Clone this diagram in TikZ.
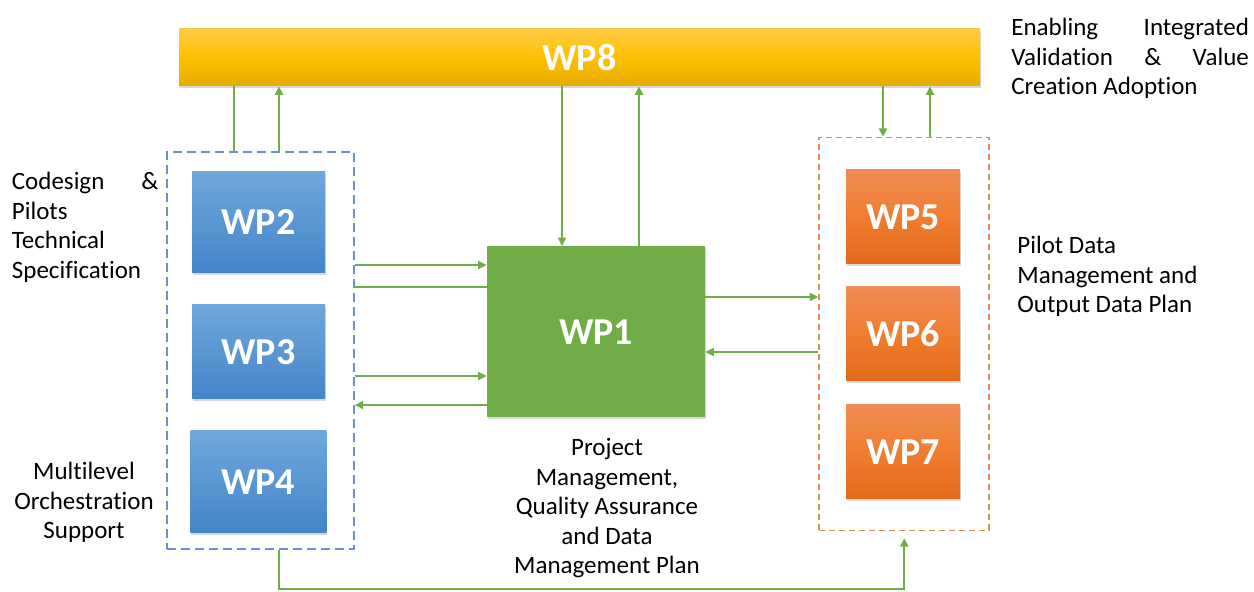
\documentclass[tikz,border=0pt]{standalone}
\usepackage{fontspec}
\setmainfont[Ligatures={NoCommon}]{Carlito}
\usetikzlibrary{arrows.meta,shadows}
\definecolor{arrgreen}{HTML}{70AD47}
\definecolor{wpgreen}{HTML}{70AD47}
\definecolor{ytop}{HTML}{FFCB45}
\definecolor{ymid}{HTML}{FFC000}
\definecolor{ybot}{HTML}{E3AD00}
\definecolor{btop}{HTML}{70A7DD}
\definecolor{bbot}{HTML}{4385C8}
\definecolor{otop}{HTML}{F18C55}
\definecolor{omid}{HTML}{F07D2F}
\definecolor{obot}{HTML}{E3691A}
\definecolor{bluedash}{HTML}{6A8FD8}
\definecolor{orangedash}{HTML}{EC8A4E}
\begin{document}
\begin{tikzpicture}[x=0.5pt,y=-0.5pt,
  wpbox/.style={draw=none, inner sep=0pt, text=white,
    font=\fontsize{19}{22}\selectfont\bfseries,
    drop shadow={shadow xshift=0.5pt,shadow yshift=-0.9pt,opacity=0.3}},
  bluebox/.style={wpbox, top color=btop, bottom color=bbot},
  orangebox/.style={wpbox, top color=otop, bottom color=obot, middle color=omid},
  groupblue/.style={draw=bluedash, line width=0.75pt, dash pattern=on 4.5pt off 2.5pt, inner sep=0pt},
  grouporange/.style={draw=orangedash, line width=0.7pt, dash pattern=on 3pt off 2pt, inner sep=0pt},
  txt/.style={inner sep=0pt, text=black, font=\fontsize{12.5}{14.8}\selectfont},
  conn/.style={draw=arrgreen, line width=0.9pt},
  arr/.style={conn, -{Triangle[length=4.2pt,width=4pt]}}
]
\fill[white] (0,0) rectangle (1254,592);
\useasboundingbox (0,0) rectangle (1254,592);

% group frames
\node[groupblue, minimum width=93.5pt, minimum height=198.5pt] (lb) at (260.5,350.5) {};
\node[grouporange, minimum width=85pt, minimum height=196.5pt] (rb) at (904,334) {};

% work packages
\node[wpbox, top color=ytop, bottom color=ybot, middle color=ymid,
      minimum width=400.5pt, minimum height=28.5pt] (wp8) at (579.5,57.5) {WP8};
\node[bluebox, minimum width=66.5pt, minimum height=50.5pt] (wp2) at (258.5,222.5) {WP2};
\node[bluebox, minimum width=66.5pt, minimum height=47pt] (wp3) at (258.5,352) {WP3};
\node[bluebox, minimum width=68pt, minimum height=51pt] (wp4) at (258.3,481.8) {WP4};
\node[wpbox, fill=wpgreen, minimum width=109pt, minimum height=85.5pt] (wp1) at (596,332) {WP1};
\node[orangebox, minimum width=57pt, minimum height=47pt] (wp5) at (903,217) {WP5};
\node[orangebox, minimum width=57pt, minimum height=47pt] (wp6) at (903,334) {WP6};
\node[orangebox, minimum width=57pt, minimum height=47pt] (wp7) at (903,452) {WP7};

% labels
\node[txt, anchor=north west, align=left] (lenabling) at (1011,14.3)
  {\strut\hbox to 118.75pt{Enabling\hfill Integrated}\\
   \strut\hbox to 118.75pt{Validation\hfill\&\hfill Value}\\
   \strut Creation Adoption};
\node[txt, anchor=north west, align=left] (lcodesign) at (11.5,168.3)
  {\strut\hbox to 73.25pt{Codesign\hfill\&}\\ \strut Pilots\\ \strut Technical\\ \strut Specification};
\node[txt, anchor=north west, align=left] (lpilot) at (1017,232.3)
  {\strut Pilot Data\\ \strut Management and\\ \strut Output Data Plan};
\node[txt, anchor=north, align=center] (lmulti) at (84,458.3)
  {\strut Multilevel\\ \strut Orchestration\\ \strut Support};
\node[txt, anchor=north, align=center] (lproject) at (607,434.3)
  {\strut Project\\ \strut Management,\\ \strut Quality Assurance\\ \strut and Data\\ \strut Management Plan};

% connectors to/from WP8
\draw[conn] (234,0 |- lb.north) -- (234,0 |- wp8.south);
\draw[arr] (279,0 |- lb.north) -- (279,0 |- wp8.south);
\draw[arr] (562,0 |- wp8.south) -- (562,0 |- wp1.north);
\draw[arr] (639,0 |- wp1.north) -- (639,0 |- wp8.south);
\draw[arr] (883,0 |- wp8.south) -- (883,0 |- rb.north);
\draw[arr] (930,0 |- rb.north) -- (930,0 |- wp8.south);

% left group <-> WP1
\draw[arr] (0,265 -| lb.east) -- (0,265 -| wp1.west);
\draw[conn] (0,287 -| lb.east) -- (0,287 -| wp1.west);
\draw[arr] (0,376 -| lb.east) -- (0,376 -| wp1.west);
\draw[arr] (0,405 -| wp1.west) -- (0,405 -| lb.east);

% WP1 <-> right group
\draw[arr] (0,297 -| wp1.east) -- (0,297 -| rb.west);
\draw[arr] (0,352 -| rb.west) -- (0,352 -| wp1.east);

% bottom loop
\draw[arr, shorten >=3.5pt] (279,0 |- lb.south) -- (279,589) -- (904.3,589) -- (904.3,0 |- rb.south);
\end{tikzpicture}
\end{document}
